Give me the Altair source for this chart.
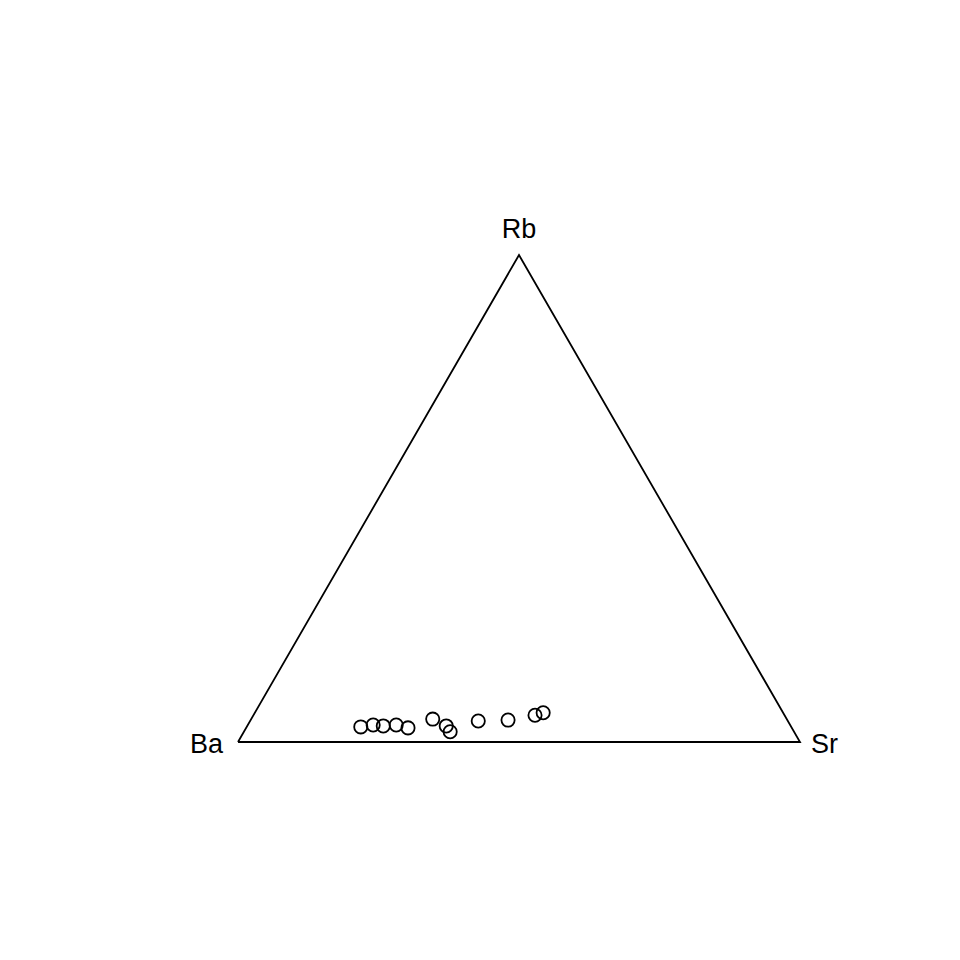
import altair as alt
import pandas as pd
import math

# Sample compositions (fractions)
ba = [0.766, 0.742, 0.725, 0.701, 0.683, 0.630, 0.613, 0.612, 0.551, 0.497, 0.444, 0.427]
rb = [0.031, 0.035, 0.033, 0.035, 0.029, 0.047, 0.033, 0.021, 0.043, 0.045, 0.055, 0.060]
sr = [0.203, 0.223, 0.242, 0.264, 0.288, 0.323, 0.354, 0.367, 0.406, 0.458, 0.501, 0.513]

# Triangle corners (pure end-members)
corner_names = ["Ba", "Sr", "Rb", "Ba"]
corner_ba = [1, 0, 0, 1]
corner_sr = [0, 1, 0, 0]
corner_rb = [0, 0, 1, 0]
corner_order = [0, 1, 2, 3]

H = math.sqrt(3) / 2

pts = pd.DataFrame({"Ba": ba, "Rb": rb, "Sr": sr})
tri = pd.DataFrame({"name": corner_names, "Ba": corner_ba, "Sr": corner_sr,
                    "Rb": corner_rb, "order": corner_order})

def project(ch):
    return ch.transform_calculate(
        tx="(datum.Sr + datum.Rb/2) / (datum.Ba + datum.Sr + datum.Rb)",
        ty=f"{H} * datum.Rb / (datum.Ba + datum.Sr + datum.Rb)",
    )

xs = alt.Scale(domain=[0, 1], nice=False, zero=False)
ys = alt.Scale(domain=[0, H], nice=False, zero=False)
X = alt.X("tx:Q", scale=xs, axis=None)
Y = alt.Y("ty:Q", scale=ys, axis=None)

outline = project(alt.Chart(tri)).mark_line(color="black", strokeWidth=1.8).encode(
    x=X, y=Y, order="order:Q")

points = project(alt.Chart(pts)).mark_point(
    shape="circle", filled=False, color="black", size=175, strokeWidth=1.8, opacity=1
).encode(x=X, y=Y)

font = "Liberation Sans"
fs = 27
lab_rb = project(alt.Chart(tri[tri.name == "Rb"])).mark_text(
    font=font, fontSize=fs, align="center", baseline="alphabetic", dy=-17, color="black"
).encode(x=X, y=Y, text="name:N")
lab_ba = project(alt.Chart(tri[(tri.name == "Ba") & (tri.order == 0)])).mark_text(
    font=font, fontSize=fs, align="right", baseline="alphabetic", dx=-15, dy=11, color="black"
).encode(x=X, y=Y, text="name:N")
lab_sr = project(alt.Chart(tri[tri.name == "Sr"])).mark_text(
    font=font, fontSize=fs, align="left", baseline="alphabetic", dx=11, dy=11, color="black"
).encode(x=X, y=Y, text="name:N")

chart = alt.layer(outline, points, lab_rb, lab_ba, lab_sr).properties(
    width=562, height=487,
    autosize=alt.AutoSizeParams(type="none"),
    padding={"left": 230, "top": 247, "right": 120, "bottom": 180},
).configure(background="white").configure_view(strokeWidth=0, stroke="transparent")

chart.save("out.html", embed_options={"renderer": "svg", "actions": False})
